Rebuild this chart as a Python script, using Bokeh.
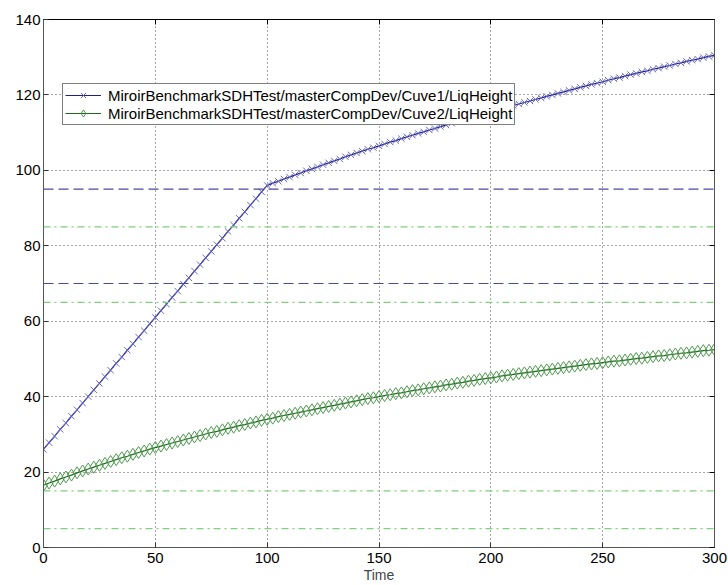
from bokeh.plotting import figure
from bokeh.models import (Range1d, FixedTicker, LinearAxis, Legend, LegendItem,
                          Span, ColumnDataSource)
from bokeh.embed import file_html
from bokeh.resources import INLINE

# ---- data ----
step = 2.5
time = [i * step for i in range(121)]

cuve1 = [26.0, 27.8, 29.5, 31.3, 33.0, 34.8, 36.5, 38.3, 40.0, 41.8, 43.5, 45.3,
         47.0, 48.8, 50.5, 52.3, 54.0, 55.8, 57.5, 59.3, 61.0, 62.8, 64.5, 66.3,
         68.0, 69.8, 71.5, 73.3, 75.0, 76.8, 78.5, 80.3, 82.0, 83.8, 85.5, 87.3,
         89.0, 90.8, 92.5, 94.3, 96.0,
         96.6, 97.1, 97.7, 98.2, 98.8, 99.3, 99.9, 100.4, 100.9, 101.5, 102.0, 102.5,
         103.0, 103.6, 104.1, 104.6, 105.1, 105.6, 106.0, 106.5, 107.0, 107.5, 107.9,
         108.4, 108.9, 109.3, 109.8, 110.2, 110.7, 111.1, 111.6, 112.0, 112.5, 112.9,
         113.4, 113.8, 114.2, 114.7, 115.1, 115.5, 115.9, 116.4, 116.8, 117.2, 117.6,
         118.0, 118.4, 118.8, 119.2, 119.6, 120.0, 120.4, 120.8, 121.2, 121.6, 122.0,
         122.4, 122.8, 123.1, 123.5, 123.9, 124.3, 124.6, 125.0, 125.4, 125.7, 126.1,
         126.4, 126.8, 127.1, 127.5, 127.8, 128.2, 128.5, 128.9, 129.2, 129.5, 129.9,
         130.2, 130.5]

cuve2 = [16.5, 17.1, 17.6, 18.2, 18.7, 19.2, 19.8, 20.3, 20.8, 21.3, 21.8, 22.3,
         22.8, 23.3, 23.8, 24.2, 24.7, 25.2, 25.6, 26.1, 26.5, 26.9, 27.3, 27.7,
         28.1, 28.5, 28.9, 29.3, 29.7, 30.1, 30.5, 30.8, 31.2, 31.6, 31.9, 32.3,
         32.6, 33.0, 33.3, 33.7, 34.0, 34.3, 34.7, 35.0, 35.3, 35.6, 35.9, 36.2,
         36.5, 36.8, 37.1, 37.4, 37.7, 38.0, 38.3, 38.6, 38.9, 39.2, 39.5, 39.7,
         40.0, 40.3, 40.5, 40.8, 41.0, 41.3, 41.6, 41.8, 42.1, 42.3, 42.6, 42.8,
         43.1, 43.3, 43.6, 43.8, 44.1, 44.3, 44.6, 44.8, 45.0, 45.2, 45.5, 45.7,
         45.9, 46.1, 46.3, 46.5, 46.7, 46.9, 47.1, 47.3, 47.5, 47.7, 47.9, 48.1,
         48.3, 48.5, 48.7, 48.8, 49.0, 49.2, 49.4, 49.5, 49.7, 49.9, 50.1, 50.2,
         50.4, 50.6, 50.8, 50.9, 51.1, 51.3, 51.5, 51.6, 51.8, 52.0, 52.2, 52.3,
         52.5]

blue_levels = [95, 70]
green_levels = [85, 65, 15, 5]

x_ticks = [0, 50, 100, 150, 200, 250, 300]
y_ticks = [0, 20, 40, 60, 80, 100, 120, 140]

label1 = "MiroirBenchmarkSDHTest/masterCompDev/Cuve1/LiqHeight"
label2 = "MiroirBenchmarkSDHTest/masterCompDev/Cuve2/LiqHeight"
x_label = "Time"

FONT = "Liberation Sans"

p = figure(width=728, height=585, output_backend="svg", toolbar_location=None,
           x_range=Range1d(0, 300), y_range=Range1d(0, 140),
           min_border_left=43, min_border_right=14, min_border_top=19,
           min_border_bottom=38)
p.background_fill_color = "white"
p.border_fill_color = "white"
p.outline_line_color = "black"
p.outline_line_width = 1

for ax in (p.xaxis[0], p.yaxis[0]):
    ax.major_tick_in = 5
    ax.major_tick_out = 0
    ax.minor_tick_in = 0
    ax.minor_tick_out = 0
    ax.axis_line_color = "#555555"
    ax.major_tick_line_color = "#333333"
    ax.major_label_text_font = FONT
    ax.major_label_text_font_size = "15px"
    ax.major_label_text_color = "black"
p.xaxis.ticker = FixedTicker(ticks=x_ticks)
p.yaxis.ticker = FixedTicker(ticks=y_ticks)
p.xaxis.major_label_standoff = 5
p.yaxis.major_label_standoff = 3
p.xaxis.axis_label = x_label
p.xaxis.axis_label_text_font = FONT
p.xaxis.axis_label_text_font_size = "14px"
p.xaxis.axis_label_text_font_style = "normal"
p.xaxis.axis_label_standoff = 1

# box ticks on top and right
top = LinearAxis(ticker=FixedTicker(ticks=x_ticks), major_label_text_font_size="0px",
                 major_tick_in=5, major_tick_out=0, minor_tick_in=0, minor_tick_out=0,
                 axis_line_color="black", major_label_standoff=0)
right = LinearAxis(ticker=FixedTicker(ticks=y_ticks), major_label_text_font_size="0px",
                   major_tick_in=5, major_tick_out=0, minor_tick_in=0, minor_tick_out=0,
                   axis_line_color="#555555", major_label_standoff=0)
top.major_label_text_color = None
right.major_label_text_color = None
p.add_layout(top, "above")
p.add_layout(right, "right")

p.xgrid.ticker = FixedTicker(ticks=x_ticks)
p.ygrid.ticker = FixedTicker(ticks=y_ticks)
p.grid.grid_line_color = "#222222"
p.grid.grid_line_dash = "1 3"
p.grid.grid_line_alpha = 0.8

for lv in blue_levels:
    p.add_layout(Span(location=lv, dimension="width", line_color="#4a4aa0",
                      line_dash="10 5", line_width=1.2))
for lv in green_levels:
    p.add_layout(Span(location=lv, dimension="width", line_color="#7fd07f",
                      line_dash="7 4 2 4", line_width=1.2))

src = ColumnDataSource(dict(t=time, c1=cuve1, c2=cuve2))

l1 = p.line("t", "c1", source=src, line_color="#1e1e8c", line_width=1.2)
m1 = p.scatter("t", "c1", source=src, marker="x", size=9, line_color="#6a6ac8",
               line_width=1)
l2 = p.line("t", "c2", source=src, line_color="#1e6a1e", line_width=1.2)
m2 = p.scatter("t", "c2", source=src, marker="diamond", size=12, fill_color=None,
               line_color="#4f9a4f", line_width=1)

legend = Legend(items=[LegendItem(label=label1, renderers=[l1, m1]),
                       LegendItem(label=label2, renderers=[l2, m2])],
                location=(19, 422), orientation="vertical")
legend.label_text_font = FONT
legend.label_text_font_size = "15px"
legend.label_text_color = "black"
legend.border_line_color = "black"
legend.border_line_width = 1
legend.background_fill_color = "white"
legend.background_fill_alpha = 1
legend.padding = 2
legend.margin = 0
legend.spacing = 0
legend.glyph_width = 36
legend.glyph_height = 18
legend.label_height = 18
legend.label_standoff = 7
p.add_layout(legend, "center")

open("out.html", "w").write(file_html(p, INLINE))
